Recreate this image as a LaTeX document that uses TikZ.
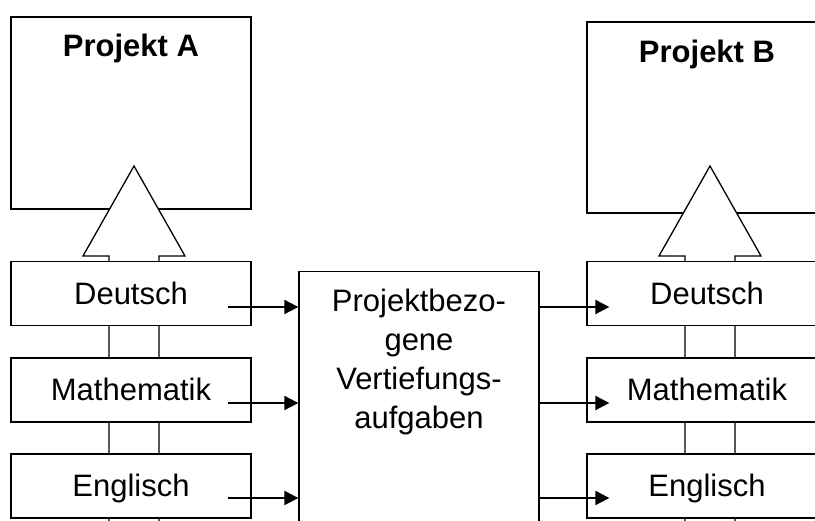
\documentclass[tikz,border=0pt]{standalone}
\usepackage{fontspec}
\setmainfont{Liberation Sans}
\usetikzlibrary{arrows.meta,calc}
\begin{document}
\begin{tikzpicture}[x=1pt,y=-1pt,
  box/.style={draw,line width=1.3pt,fill=white,minimum width=240pt,minimum height=64pt,inner sep=0pt},
  subj/.style={box,font=\fontsize{31}{39}\selectfont,text height=28pt,text depth=6pt},
  title/.style={font=\fontsize{31}{39}\selectfont\bfseries,inner sep=0pt},
  mtext/.style={font=\fontsize{31}{39}\selectfont,align=center,inner sep=0pt},
  blockarrow/.style={draw,line width=1.3pt,fill=white},
  arr/.style={-{Triangle[length=14pt,width=14pt]},line width=2pt}
]
\useasboundingbox (0,0) rectangle (815,521);
\clip (0,0) rectangle (815,521);
% project boxes
\node[box,minimum height=192pt] (pA) at (131,113) {};
\node[title,anchor=base] (tA) at (131,57) {Projekt A};
\node[box,minimum height=191pt] (pB) at (707,117.5) {};
\node[title,anchor=base] (tB) at (707,63) {Projekt B};
% block arrows
\draw[blockarrow] (134,166) -- (185,256) -- (159,256) -- (159,540) -- (109,540) -- (109,256) -- (83,256) -- cycle;
\draw[blockarrow] (710,166) -- (761,256) -- (735,256) -- (735,540) -- (685,540) -- (685,256) -- (659,256) -- cycle;
% subject boxes left
\node[subj] (dL) at (131,293.5) {Deutsch};
\node[subj] (mL) at (131,390) {Mathematik};
\node[subj] (eL) at (131,486) {Englisch};
% subject boxes right
\node[subj] (dR) at (707,293.5) {Deutsch};
\node[subj] (mR) at (707,390) {Mathematik};
\node[subj] (eR) at (707,486) {Englisch};
% middle box
\node[box,minimum height=300pt,anchor=north] (mid) at (419,271) {};
\node[mtext,anchor=north] (midtext) at (419,289) {Projektbezo-\\gene\\Vertiefungs-\\aufgaben};
% arrows
\coordinate (aD) at ($(dL.east)+(-24,13.5)$);
\coordinate (aM) at ($(mL.east)+(-24,13)$);
\coordinate (aE) at ($(eL.east)+(-24,12)$);
\draw[arr] (aD) -- (aD -| mid.west);
\draw[arr] (aM) -- (aM -| mid.west);
\draw[arr] (aE) -- (aE -| mid.west);
\coordinate (bD) at ($(aD -| dR.west)+(23,0)$);
\coordinate (bM) at ($(aM -| mR.west)+(23,0)$);
\coordinate (bE) at ($(aE -| eR.west)+(23,0)$);
\draw[arr] (aD -| mid.east) -- (bD);
\draw[arr] (aM -| mid.east) -- (bM);
\draw[arr] (aE -| mid.east) -- (bE);
\end{tikzpicture}
\end{document}
